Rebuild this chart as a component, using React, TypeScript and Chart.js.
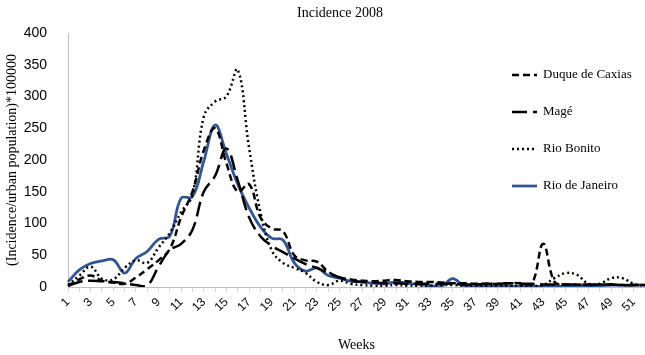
import React, { useEffect, useRef } from 'react';
import { Chart, registerables } from 'chart.js';

Chart.register(...registerables);

const weeks = [
  '1', '2', '3', '4', '5', '6', '7', '8', '9', '10', '11', '12', '13',
  '14', '15', '16', '17', '18', '19', '20', '21', '22', '23', '24', '25', '26',
  '27', '28', '29', '30', '31', '32', '33', '34', '35', '36', '37', '38', '39',
  '40', '41', '42', '43', '44', '45', '46', '47', '48', '49', '50', '51', '52',
];

const duqueDeCaxias = [
  2, 12, 18, 10, 7, 5, 15, 28, 42, 60, 110, 150, 215,
  250, 195, 150, 162, 110, 92, 88, 50, 42, 40, 24, 15, 12,
  10, 9, 10, 11, 9, 8, 8, 7, 6, 6, 5, 5, 5,
  6, 6, 5, 68, 8, 4, 4, 3, 4, 4, 3, 3, 3,
];

const mage = [
  2, 8, 10, 9, 8, 6, 3, 2, 32, 58, 68, 90, 150,
  175, 218, 168, 110, 80, 65, 55, 45, 36, 30, 22, 15, 10,
  8, 7, 6, 6, 5, 5, 5, 5, 5, 4, 4, 5, 5,
  6, 5, 5, 4, 4, 4, 4, 4, 4, 4, 3, 3, 3,
];

const rioBonito = [
  3, 18, 32, 13, 12, 30, 42, 38, 62, 85, 118, 145, 268,
  292, 300, 342, 220, 118, 58, 38, 30, 22, 8, 3, 10, 5,
  3, 2, 2, 3, 2, 2, 2, 3, 3, 2, 2, 2, 2,
  2, 2, 2, 3, 14, 22, 19, 5, 5, 14, 14, 5, 2,
];

const rioDeJaneiro = [
  8, 27, 37, 41, 43, 22, 45, 56, 75, 80, 140, 142, 198,
  255, 210, 162, 125, 95, 77, 74, 38, 25, 30, 18, 14, 9,
  8, 6, 5, 8, 6, 4, 2, 1, 13, 2, 1, 1, 1,
  1, 1, 1, 1, 1, 1, 1, 2, 2, 3, 3, 3, 3,
];

const yTicks = [0, 50, 100, 150, 200, 250, 300, 350, 400];

const TITLE = 'Incidence 2008';

const titlePlugin = {
  id: 'customTitle',
  afterDraw(chart: any) {
    const ctx = chart.ctx;
    ctx.save();
    ctx.font = '14px "Liberation Serif"';
    ctx.fillStyle = '#000';
    ctx.textAlign = 'center';
    ctx.textBaseline = 'middle';
    ctx.fillText(TITLE, 340, 13);
    ctx.restore();
  },
};

const legendPlugin = {
  id: 'sideLegend',
  afterDatasetsDraw(chart: any) {
    const ctx = chart.ctx;
    ctx.save();
    chart.data.datasets.forEach((ds: any, i: number) => {
      const y = 75 + i * 37;
      ctx.beginPath();
      ctx.setLineDash(ds.borderDash || []);
      ctx.lineWidth = ds.borderWidth;
      ctx.strokeStyle = ds.borderColor;
      ctx.lineCap = 'butt';
      ctx.moveTo(512, y);
      ctx.lineTo(537, y);
      ctx.stroke();
      ctx.setLineDash([]);
      ctx.fillStyle = '#000';
      ctx.font = '13px "Liberation Serif"';
      ctx.textAlign = 'left';
      ctx.textBaseline = 'middle';
      ctx.fillText(ds.label, 543, y);
    });
    ctx.restore();
  },
};

export default function App() {
  const ref = useRef<HTMLCanvasElement>(null);

  useEffect(() => {
    document.body.style.margin = '0';
    const canvas = ref.current;
    if (!canvas) return;
    const chart = new Chart(canvas, {
      type: 'line',
      data: {
        labels: weeks,
        datasets: [
          {
            label: 'Duque de Caxias',
            data: duqueDeCaxias,
            borderColor: '#000000',
            borderWidth: 2.5,
            borderDash: [7, 4],
          },
          {
            label: 'Magé',
            data: mage,
            borderColor: '#000000',
            borderWidth: 2.5,
            borderDash: [15, 6],
          },
          {
            label: 'Rio Bonito',
            data: rioBonito,
            borderColor: '#000000',
            borderWidth: 2.5,
            borderDash: [2, 3],
          },
          {
            label: 'Rio de Janeiro',
            data: rioDeJaneiro,
            borderColor: '#2F5597',
            borderWidth: 2.75,
          },
        ],
      },
      options: {
        animation: false,
        responsive: false,
        devicePixelRatio: 1,
        layout: { padding: { top: 33, right: 0, left: 0, bottom: 0 } },
        elements: {
          point: { radius: 0 },
          line: { tension: 0.4, fill: false },
        },
        plugins: {
          legend: { display: false },
          title: { display: false },
          tooltip: { enabled: false },
        },
        scales: {
          x: {
            type: 'category',
            offset: false,
            grid: {
              display: true,
              drawOnChartArea: false,
              drawTicks: true,
              tickLength: 5,
              color: '#d9d9d9',
            },
            border: { display: true, color: '#bfbfbf' },
            ticks: {
              autoSkip: false,
              maxRotation: 45,
              minRotation: 45,
              padding: 3,
              color: '#000',
              font: { family: 'Liberation Sans', size: 12 },
              callback: (_v: any, i: number) => (i % 2 === 0 ? weeks[i] : ''),
            },
            title: {
              display: true,
              text: 'Weeks',
              color: '#000',
              font: { family: 'Liberation Serif', size: 14 },
              padding: { top: 4, bottom: 1 },
            },
            afterFit: (s: any) => {
              s.height = 68;
              s.paddingLeft = 0;
              s.paddingRight = 0;
            },
          },
          y: {
            min: 0,
            max: 400,
            afterBuildTicks: (s: any) => {
              s.ticks = yTicks.map((v) => ({ value: v }));
            },
            grid: { display: false },
            border: { display: true, color: '#bfbfbf' },
            ticks: {
              padding: 13,
              color: '#000',
              font: { family: 'Liberation Sans', size: 14 },
            },
            title: {
              display: true,
              text: '(Incidence/urban population)*100000',
              color: '#000',
              font: { family: 'Liberation Serif', size: 14 },
              padding: 4,
            },
            afterFit: (s: any) => {
              s.width = 68;
            },
          },
        },
      },
      plugins: [titlePlugin, legendPlugin],
    });
    return () => chart.destroy();
  }, []);

  return <canvas ref={ref} width={645} height={355} style={{ display: 'block' }} />;
}
